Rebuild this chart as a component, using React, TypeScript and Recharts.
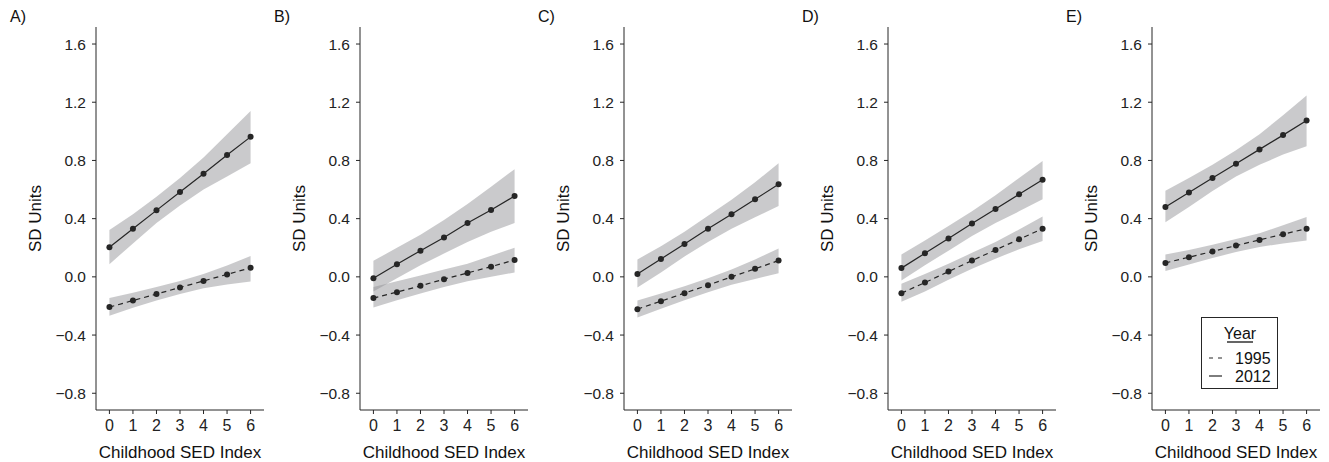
import React from "react";
import { ComposedChart, Area, Line, XAxis, YAxis } from "recharts";

// x positions (Childhood SED Index)
const SED = [0, 1, 2, 3, 4, 5, 6];
const Y_TICKS = [-0.8, -0.4, 0, 0.4, 0.8, 1.2, 1.6];
const PANEL_LABELS = ["A)", "B)", "C)", "D)", "E)"];

// fitted values and confidence bands
const aFit2012 = [0.204, 0.331, 0.457, 0.583, 0.709, 0.837, 0.962];
const aLo2012 = [0.087, 0.23, 0.37, 0.49, 0.6, 0.69, 0.78];
const aHi2012 = [0.322, 0.43, 0.55, 0.68, 0.82, 0.98, 1.139];
const aFit1995 = [-0.208, -0.163, -0.118, -0.073, -0.028, 0.017, 0.062];
const aLo1995 = [-0.268, -0.213, -0.163, -0.118, -0.078, -0.053, -0.032];
const aHi1995 = [-0.146, -0.11, -0.07, -0.028, 0.02, 0.078, 0.144];

const bFit2012 = [-0.01, 0.087, 0.18, 0.27, 0.37, 0.46, 0.555];
const bLo2012 = [-0.1, -0.01, 0.08, 0.16, 0.24, 0.31, 0.37];
const bHi2012 = [0.11, 0.2, 0.29, 0.39, 0.5, 0.62, 0.74];
const bFit1995 = [-0.146, -0.105, -0.062, -0.016, 0.027, 0.07, 0.116];
const bLo1995 = [-0.21, -0.16, -0.115, -0.07, -0.03, 0.0, 0.03];
const bHi1995 = [-0.07, -0.03, 0.01, 0.05, 0.09, 0.145, 0.2];

const cFit2012 = [0.02, 0.123, 0.226, 0.33, 0.43, 0.533, 0.636];
const cLo2012 = [-0.073, 0.03, 0.14, 0.24, 0.33, 0.41, 0.487];
const cHi2012 = [0.12, 0.21, 0.31, 0.42, 0.53, 0.65, 0.78];
const cFit1995 = [-0.222, -0.167, -0.112, -0.057, 0.0, 0.055, 0.112];
const cLo1995 = [-0.279, -0.22, -0.16, -0.105, -0.055, -0.015, 0.025];
const cHi1995 = [-0.162, -0.115, -0.065, -0.01, 0.05, 0.12, 0.194];

const dFit2012 = [0.06, 0.162, 0.263, 0.366, 0.466, 0.567, 0.667];
const dLo2012 = [-0.025, 0.08, 0.18, 0.28, 0.37, 0.45, 0.533];
const dHi2012 = [0.153, 0.25, 0.35, 0.45, 0.56, 0.68, 0.796];
const dFit1995 = [-0.112, -0.039, 0.036, 0.112, 0.185, 0.258, 0.331];
const dLo1995 = [-0.171, -0.1, -0.02, 0.055, 0.125, 0.19, 0.247];
const dHi1995 = [-0.048, 0.02, 0.09, 0.165, 0.24, 0.325, 0.414];

const eFit2012 = [0.48, 0.58, 0.68, 0.777, 0.876, 0.974, 1.075];
const eLo2012 = [0.375, 0.48, 0.59, 0.69, 0.77, 0.84, 0.898];
const eHi2012 = [0.592, 0.68, 0.77, 0.87, 0.98, 1.11, 1.246];
const eFit1995 = [0.096, 0.135, 0.174, 0.215, 0.254, 0.293, 0.331];
const eLo1995 = [0.041, 0.085, 0.13, 0.17, 0.205, 0.23, 0.249];
const eHi1995 = [0.153, 0.185, 0.22, 0.26, 0.3, 0.355, 0.411];

const FONT = "'Liberation Sans', Arial, Helvetica, sans-serif";
const INK = "#262626";
const PANEL_W = 264;

const buildRows = (
  fit12: number[], lo12: number[], hi12: number[],
  fit95: number[], lo95: number[], hi95: number[]
) =>
  SED.map((x, i) => ({
    x,
    fit2012: fit12[i],
    band2012: [lo12[i], hi12[i]],
    fit1995: fit95[i],
    band1995: [lo95[i], hi95[i]],
  }));

const panels = [
  buildRows(aFit2012, aLo2012, aHi2012, aFit1995, aLo1995, aHi1995),
  buildRows(bFit2012, bLo2012, bHi2012, bFit1995, bLo1995, bHi1995),
  buildRows(cFit2012, cLo2012, cHi2012, cFit1995, cLo1995, cHi1995),
  buildRows(dFit2012, dLo2012, dHi2012, dFit1995, dLo1995, dHi1995),
  buildRows(eFit2012, eLo2012, eHi2012, eFit1995, eLo1995, eHi1995),
];

const fmtY = (v: number) => {
  const s = Math.abs(v).toFixed(1);
  return v < -1e-9 ? `\u2212${s}` : s;
};

const YLabel = (props: any) => {
  const vb = props.viewBox || {};
  const cx = 35;
  const cy = vb.y + vb.height / 2;
  return (
    <text x={cx} y={cy} transform={`rotate(-90 ${cx} ${cy})`} textAnchor="middle"
      dominantBaseline="central" fontSize={17} fontFamily={FONT} fill="#111">
      SD Units
    </text>
  );
};

const XLabel = (props: any) => {
  const vb = props.viewBox || {};
  return (
    <text x={vb.x + vb.width / 2} y={452} textAnchor="middle" dominantBaseline="central"
      fontSize={17} fontFamily={FONT} fill="#111">
      Childhood SED Index
    </text>
  );
};

const YearLegend = () => (
  <div style={{
    position: "absolute", left: 145, top: 317, width: 75, height: 70,
    border: `1px solid ${INK}`, background: "#fff", fontFamily: FONT,
    color: "#111",
  }}>
    <svg width={75} height={70} style={{ position: "absolute", left: 0, top: 0 }}>
      <text x={38} y={15} textAnchor="middle" dominantBaseline="central" fontSize={16}
        fontFamily={FONT} fill="#111">Year</text>
      <line x1={25} x2={51} y1={24} y2={24} stroke="#111" strokeWidth={1.3} />
      <line x1={7} x2={20} y1={40} y2={40} stroke={INK} strokeWidth={1.2} strokeDasharray="4 5" />
      <text x={33} y={40} dominantBaseline="central" fontSize={16} fontFamily={FONT} fill="#111">1995</text>
      <line x1={7} x2={20} y1={58} y2={58} stroke={INK} strokeWidth={1.2} />
      <text x={33} y={58} dominantBaseline="central" fontSize={16} fontFamily={FONT} fill="#111">2012</text>
    </svg>
  </div>
);

const Panel = ({ idx, rows }: { idx: number; rows: any[] }) => (
  <div style={{ position: "absolute", left: idx * PANEL_W, top: 0, width: PANEL_W, height: 462 }}>
    <div style={{ position: "absolute", left: 10, top: 8, fontFamily: FONT, fontSize: 16, color: "#111" }}>
      {PANEL_LABELS[idx]}
    </div>
    <ComposedChart width={PANEL_W} height={462} data={rows}
      margin={{ top: 27, right: 0, left: 0, bottom: 0 }}>
      <XAxis dataKey="x" type="number" domain={[-0.57, 6.57]} ticks={SED} allowDataOverflow
        height={52} tickSize={4} tickMargin={6} stroke={INK}
        tick={{ fontSize: 16, fontFamily: FONT, fill: "#222" }} label={<XLabel />} />
      <YAxis type="number" domain={[-0.915, 1.717]} ticks={Y_TICKS} allowDataOverflow
        width={96} tickSize={4} tickMargin={6} stroke={INK} tickFormatter={fmtY}
        tick={{ fontSize: 15.5, fontFamily: FONT, fill: "#222" }} label={<YLabel />} />
      <Area type="linear" dataKey="band2012" stroke="none" fill="#8e8e92" fillOpacity={0.47}
        isAnimationActive={false} />
      <Area type="linear" dataKey="band1995" stroke="none" fill="#8e8e92" fillOpacity={0.47}
        isAnimationActive={false} />
      <Line type="linear" dataKey="fit2012" stroke={INK} strokeWidth={1.2}
        dot={{ r: 3, fill: INK, stroke: "none" }} isAnimationActive={false} />
      <Line type="linear" dataKey="fit1995" stroke={INK} strokeWidth={1.2} strokeDasharray="5 4"
        dot={{ r: 3, fill: INK, stroke: "none", strokeDasharray: "" }} isAnimationActive={false} />
    </ComposedChart>
    {idx === 4 && <YearLegend />}
  </div>
);

export default function App() {
  return (
    <div style={{ position: "absolute", left: 0, top: 0, width: 1329, height: 462, background: "#fff" }}>
      {panels.map((rows, i) => (
        <Panel key={i} idx={i} rows={rows} />
      ))}
    </div>
  );
}
